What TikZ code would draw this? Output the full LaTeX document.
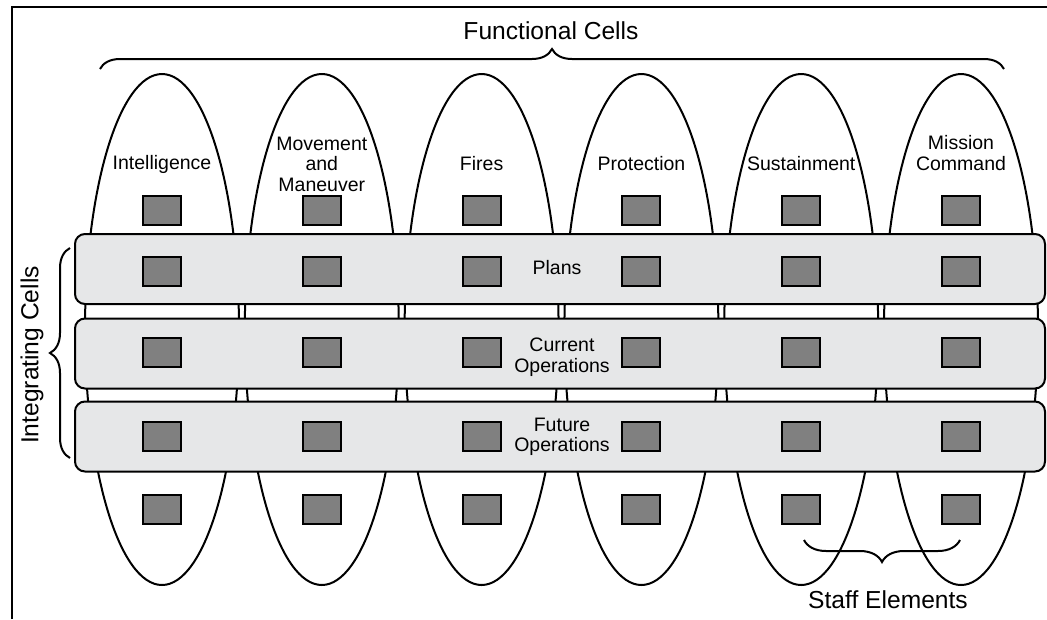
\documentclass[tikz,border=0pt]{standalone}
\usepackage{fontspec}
\setmainfont{Liberation Sans}
\usetikzlibrary{shapes.geometric,decorations.pathreplacing}
\definecolor{bandgray}{RGB}{230,231,232}
\definecolor{boxgray}{RGB}{128,128,128}
\tikzset{
  cell/.style={ellipse,draw,line width=2pt,minimum width=154pt,minimum height=511pt,inner sep=0pt},
  band/.style={rectangle,rounded corners=10pt,draw,line width=2pt,fill=bandgray,minimum width=970pt,minimum height=70pt},
  staffbox/.style={rectangle,draw,line width=2pt,fill=boxgray,minimum width=38pt,minimum height=29pt,inner sep=0pt},
  lbl/.style={font=\fontsize{19.5}{20.5}\selectfont,align=center,inner sep=0pt},
  title/.style={font=\fontsize{24.6}{28}\selectfont,inner sep=0pt},
  curly/.style={decorate,decoration={brace,amplitude=#1},line width=2pt}
}
\begin{document}
\begin{tikzpicture}[x=1pt,y=-1pt]
   \useasboundingbox (0,0) rectangle (1047,619);
   \draw[line width=2.5pt] (12,619) -- (12,7) -- (1047,7);
   % functional cells
   \node (cell1) at (162.0,329.5) [cell] {};
   \node (cell2) at (321.8,329.5) [cell] {};
   \node (cell3) at (481.6,329.5) [cell] {};
   \node (cell4) at (641.4,329.5) [cell] {};
   \node (cell5) at (801.2,329.5) [cell] {};
   \node (cell6) at (961.0,329.5) [cell] {};
   \node (name1) at (162.0,164) [lbl] {Intelligence};
   \node (name2) at (321.8,164) [lbl] {Movement\\and\\Maneuver};
   \node (name3) at (481.6,164) [lbl] {Fires};
   \node (name4) at (641.4,164) [lbl] {Protection};
   \node (name5) at (801.2,164) [lbl] {Sustainment};
   \node (name6) at (961.0,153) [lbl] {Mission\\Command};
   % integrating cells
   \node (band1) at (560,269.0) [band] {};
   \node (band2) at (560,353.5) [band] {};
   \node (band3) at (560,436.5) [band] {};
   \node (plans)   at (557,268) [lbl] {Plans};
   \node (current) at (562,357) [lbl] {Current\\Operations};
   \node (future)  at (562,437) [lbl] {Future\\Operations};
   % staff elements
   \foreach \x [count=\i] in {162.0,321.8,481.6,641.4,801.2,961.0}
     \foreach \y [count=\j] in {210,271,352,436,509}
       \node (box\i\j) at (\x,\y) [staffbox] {};
   % braces
   \coordinate (fcleft)  at (100,69);
   \coordinate (fcright) at (1004,69);
   \coordinate (icbottom) at (70,458);
   \coordinate (ictop)    at (70,248);
   \coordinate (seright) at (960,540);
   \coordinate (seleft)  at (804,540);
   \draw[curly=20pt] (fcleft) -- (fcright);
   \draw[curly=20pt] (icbottom) -- (ictop);
   \draw[curly=22pt] (seright) -- (seleft);
   \node (functional)  at (551,31) [title] {Functional Cells};
   \node (integrating) at (32,355) [title,rotate=90] {Integrating Cells};
   \node (staff)       at (888,600) [title] {Staff Elements};
\end{tikzpicture}
\end{document}
